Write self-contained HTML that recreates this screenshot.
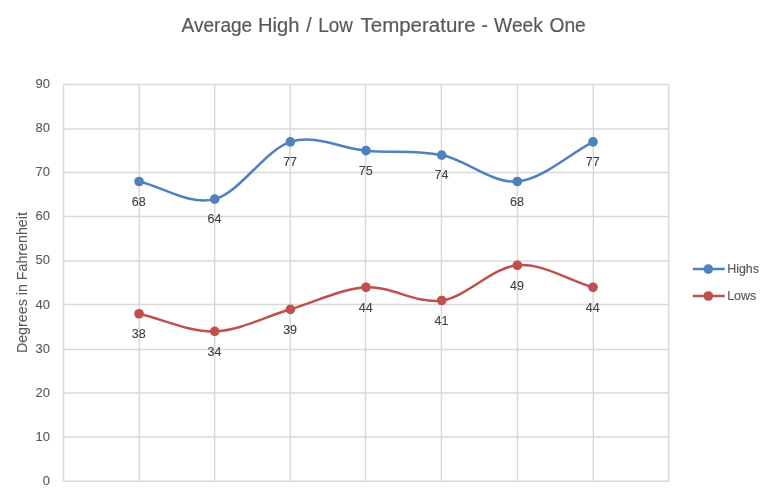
<!DOCTYPE html>
<html><head><meta charset="utf-8"><style>
html,body{margin:0;padding:0;background:#fff;overflow:hidden;}
svg{display:block;will-change:transform;}
text{font-family:"Liberation Sans", sans-serif;stroke-width:0.2px;}
.ax text,text.yt{stroke-width:0.1px;}
</style></head><body>
<svg width="768" height="495" viewBox="0 0 768 495">
<rect width="768" height="495" fill="#fff"/>
<g stroke="#D9D9D9" stroke-width="1.5" fill="none">
<line x1="63.58" y1="481.20" x2="668.70" y2="481.20"/>
<line x1="63.58" y1="436.98" x2="668.70" y2="436.98"/>
<line x1="63.58" y1="393.03" x2="668.70" y2="393.03"/>
<line x1="63.58" y1="349.56" x2="668.70" y2="349.56"/>
<line x1="63.58" y1="304.55" x2="668.70" y2="304.55"/>
<line x1="63.58" y1="260.98" x2="668.70" y2="260.98"/>
<line x1="63.58" y1="216.42" x2="668.70" y2="216.42"/>
<line x1="63.58" y1="172.59" x2="668.70" y2="172.59"/>
<line x1="63.58" y1="128.98" x2="668.70" y2="128.98"/>
<line x1="63.58" y1="84.45" x2="668.70" y2="84.45"/>
<line x1="63.58" y1="84.45" x2="63.58" y2="481.20"/>
<line x1="139.27" y1="84.45" x2="139.27" y2="481.20"/>
<line x1="214.67" y1="84.45" x2="214.67" y2="481.20"/>
<line x1="290.18" y1="84.45" x2="290.18" y2="481.20"/>
<line x1="365.53" y1="84.45" x2="365.53" y2="481.20"/>
<line x1="441.45" y1="84.45" x2="441.45" y2="481.20"/>
<line x1="517.55" y1="84.45" x2="517.55" y2="481.20"/>
<line x1="593.27" y1="84.45" x2="593.27" y2="481.20"/>
<line x1="668.70" y1="84.45" x2="668.70" y2="481.20"/>
</g>
<g fill="#595959" stroke="#595959" font-size="19.5">
<text transform="translate(181.50,31.5) scale(0.9791,1)">Average</text>
<text transform="translate(257.95,31.5) scale(1.0348,1)">High</text>
<text transform="translate(306.20,31.5) scale(1.0000,1)">/</text>
<text transform="translate(318.35,31.5) scale(0.9651,1)">Low</text>
<text transform="translate(360.48,31.5) scale(1.0517,1)">Temperature</text>
<text transform="translate(481.42,31.5) scale(0.9796,1)">-</text>
<text transform="translate(494.10,31.5) scale(0.9859,1)">Week</text>
<text transform="translate(549.41,31.5) scale(0.9887,1)">One</text>
</g>
<g class="ax" fill="#595959" stroke="#595959" font-size="13.5">
<text transform="translate(50,484.80) scale(0.96,1)" text-anchor="end">0</text>
<text transform="translate(50,440.73) scale(0.96,1)" text-anchor="end">10</text>
<text transform="translate(50,396.66) scale(0.96,1)" text-anchor="end">20</text>
<text transform="translate(50,352.58) scale(0.96,1)" text-anchor="end">30</text>
<text transform="translate(50,308.51) scale(0.96,1)" text-anchor="end">40</text>
<text transform="translate(50,264.44) scale(0.96,1)" text-anchor="end">50</text>
<text transform="translate(50,220.37) scale(0.96,1)" text-anchor="end">60</text>
<text transform="translate(50,176.29) scale(0.96,1)" text-anchor="end">70</text>
<text transform="translate(50,132.22) scale(0.96,1)" text-anchor="end">80</text>
<text transform="translate(50,88.15) scale(0.96,1)" text-anchor="end">90</text>
</g>
<text class="yt" transform="translate(27,282.6) rotate(-90)" text-anchor="middle" fill="#595959" stroke="#595959" font-size="14.0" textLength="141" lengthAdjust="spacingAndGlyphs">Degrees in Fahrenheit</text>
<path d="M139.05,181.51 C164.27,187.39 189.49,205.75 214.71,199.14 C239.93,192.53 265.15,149.92 290.37,141.84 C315.59,133.76 340.81,148.45 366.03,150.66 C391.25,152.86 416.47,149.92 441.69,155.07 C466.91,160.21 492.13,183.71 517.35,181.51 C542.57,179.31 567.79,155.07 593.01,141.84" fill="none" stroke="#4F81BD" stroke-width="2.5" stroke-linecap="round" stroke-linejoin="round"/>
<circle cx="139.05" cy="181.51" r="4.85" fill="#4F81BD"/>
<circle cx="214.71" cy="199.14" r="4.85" fill="#4F81BD"/>
<circle cx="290.37" cy="141.84" r="4.85" fill="#4F81BD"/>
<circle cx="366.03" cy="150.66" r="4.85" fill="#4F81BD"/>
<circle cx="441.69" cy="155.07" r="4.85" fill="#4F81BD"/>
<circle cx="517.35" cy="181.51" r="4.85" fill="#4F81BD"/>
<circle cx="593.01" cy="141.84" r="4.85" fill="#4F81BD"/>
<path d="M139.05,313.73 C164.27,319.60 189.49,332.09 214.71,331.35 C239.93,330.62 265.15,316.66 290.37,309.32 C315.59,301.97 340.81,288.75 366.03,287.28 C391.25,285.81 416.47,304.18 441.69,300.50 C466.91,296.83 492.13,267.45 517.35,265.25 C542.57,263.04 567.79,279.94 593.01,287.28" fill="none" stroke="#C0504D" stroke-width="2.5" stroke-linecap="round" stroke-linejoin="round"/>
<circle cx="139.05" cy="313.73" r="4.85" fill="#C0504D"/>
<circle cx="214.71" cy="331.35" r="4.85" fill="#C0504D"/>
<circle cx="290.37" cy="309.32" r="4.85" fill="#C0504D"/>
<circle cx="366.03" cy="287.28" r="4.85" fill="#C0504D"/>
<circle cx="441.69" cy="300.50" r="4.85" fill="#C0504D"/>
<circle cx="517.35" cy="265.25" r="4.85" fill="#C0504D"/>
<circle cx="593.01" cy="287.28" r="4.85" fill="#C0504D"/>

<g class="ax" fill="#404040" stroke="#404040" font-size="13.0">
<text transform="translate(138.75,205.81) scale(0.96,1)" text-anchor="middle">68</text>
<text transform="translate(214.41,223.44) scale(0.96,1)" text-anchor="middle">64</text>
<text transform="translate(290.07,166.14) scale(0.96,1)" text-anchor="middle">77</text>
<text transform="translate(365.73,174.96) scale(0.96,1)" text-anchor="middle">75</text>
<text transform="translate(441.39,179.37) scale(0.96,1)" text-anchor="middle">74</text>
<text transform="translate(517.05,205.81) scale(0.96,1)" text-anchor="middle">68</text>
<text transform="translate(592.71,166.14) scale(0.96,1)" text-anchor="middle">77</text>
<text transform="translate(138.75,338.03) scale(0.96,1)" text-anchor="middle">38</text>
<text transform="translate(214.41,355.65) scale(0.96,1)" text-anchor="middle">34</text>
<text transform="translate(290.07,333.62) scale(0.96,1)" text-anchor="middle">39</text>
<text transform="translate(365.73,311.58) scale(0.96,1)" text-anchor="middle">44</text>
<text transform="translate(441.39,324.80) scale(0.96,1)" text-anchor="middle">41</text>
<text transform="translate(517.05,289.55) scale(0.96,1)" text-anchor="middle">49</text>
<text transform="translate(592.71,311.58) scale(0.96,1)" text-anchor="middle">44</text>
</g>
<g>
<line x1="693.9" y1="269.1" x2="723.7" y2="269.1" stroke="#4F81BD" stroke-width="2.5" stroke-linecap="round"/>
<circle cx="708.3" cy="269.1" r="4.85" fill="#4F81BD"/>
<line x1="693.9" y1="296.0" x2="723.7" y2="296.0" stroke="#C0504D" stroke-width="2.5" stroke-linecap="round"/>
<circle cx="708.3" cy="296.0" r="4.85" fill="#C0504D"/>
<g fill="#595959" stroke="#595959" font-size="13.5">
<text transform="translate(727.2,272.9) scale(0.92,1)">Highs</text>
<text transform="translate(727.2,299.9) scale(0.92,1)">Lows</text>
</g>
</g>
</svg>
</body></html>
